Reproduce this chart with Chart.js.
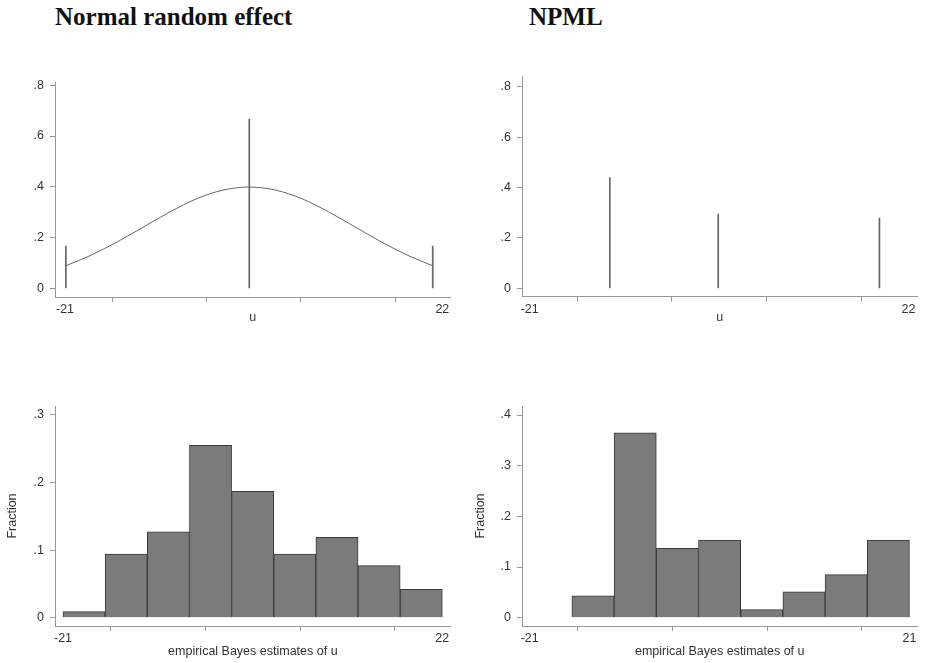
<!DOCTYPE html>
<html>
<head>
<meta charset="utf-8">
<script src="https://cdn.jsdelivr.net/npm/chart.js@4.4.0/dist/chart.umd.min.js"></script>
<style>
  body { margin:0; background:#fff; width:926px; height:663px; position:relative; overflow:hidden; }
  .titulo { position:absolute; top:4px; font: bold 25px/25px "Liberation Serif", "Times New Roman", serif; color:#111; white-space:nowrap; }
  canvas { position:absolute; }
</style>
</head>
<body>
<div class="titulo" style="left:55px">Normal random effect</div>
<div class="titulo" style="left:529px">NPML</div>
<canvas id="normal_u" width="463" height="300" style="left:0;top:40px"></canvas>
<canvas id="npml_u" width="463" height="300" style="left:463px;top:40px"></canvas>
<canvas id="eb_normal" width="463" height="278" style="left:0;top:385px"></canvas>
<canvas id="eb_npml" width="463" height="278" style="left:463px;top:385px"></canvas>
<script>
  // DADOS ================================

  // normal random effect: curva + pontos de quadratura
  const normal_curve_x = [-20.9, -18, -15, -12, -9, -6, -3, 0, 3, 6, 9, 12, 15, 18, 20.9]
  const normal_curve_y = [0.089, 0.131, 0.184, 0.243, 0.302, 0.353, 0.387, 0.399, 0.387, 0.353, 0.302, 0.243, 0.184, 0.131, 0.089]
  const normal_mass_x = [-20.9, 0, 20.9]
  const normal_mass_y = [0.167, 0.667, 0.167]

  // NPML: massas
  const npml_mass_x = [-11.9, 0.4, 18.7]
  const npml_mass_y = [0.44, 0.295, 0.279]

  // histogramas das estimativas empiricas de Bayes
  const eb_normal_range = [-21, 22]
  const eb_normal_frac = [0.009, 0.094, 0.127, 0.255, 0.187, 0.094, 0.119, 0.077, 0.042]
  const eb_npml_range = [-16.33, 21]
  const eb_npml_frac = [0.043, 0.365, 0.137, 0.153, 0.016, 0.051, 0.085, 0.153]

  // ticks
  const top_x_ticks = [-21, -10.25, 0.5, 11.25, 22]
  const top_x_labels = ['-21', '', '', '', '22']
  const top_y_ticks = [0, 0.2, 0.4, 0.6, 0.8]
  const top_y_labels = ['0', '.2', '.4', '.6', '.8']
  const eb_normal_y_ticks = [0, 0.1, 0.2, 0.3]
  const eb_normal_y_labels = ['0', '.1', '.2', '.3']
  const eb_npml_x_ticks = [-21, -10.5, 0, 10.5, 21]
  const eb_npml_x_labels = ['-21', '', '', '', '21']
  const eb_npml_y_ticks = [0, 0.1, 0.2, 0.3, 0.4]
  const eb_npml_y_labels = ['0', '.1', '.2', '.3', '.4']

  Chart.defaults.font.family = '"Liberation Sans", Arial, sans-serif'
  Chart.defaults.font.size = 12.5
  Chart.defaults.color = '#333'
  Chart.defaults.animation = false
  Chart.defaults.plugins.legend.display = false
  Chart.defaults.plugins.tooltip.enabled = false

  const pts = (xs, ys) => xs.map((x, i) => ({x: x, y: ys[i]}))

  function bins(range, frac) {
    const w = (range[1] - range[0]) / frac.length
    return frac.map((f, i) => ({x: range[0] + w * (i + 0.5), y: f}))
  }

  function eixo_x(min, max, ticks, labels, altura, titulo, pad) {
    return {
      type: 'linear', min: min, max: max, offset: false,
      afterBuildTicks: s => { s.ticks = ticks.map(v => ({value: v})) },
      afterFit: s => { s.height = altura },
      ticks: { callback: (v, i) => labels[i], padding: 0, maxRotation: 0, autoSkip: false },
      grid: { drawOnChartArea: false, drawTicks: true, tickLength: 5, color: '#999' },
      border: { color: '#999' },
      title: { display: true, text: titulo, padding: {top: 0, bottom: pad} }
    }
  }

  function eixo_y(min, max, ticks, labels, largura, titulo, pad) {
    return {
      min: min, max: max,
      afterBuildTicks: s => { s.ticks = ticks.map(v => ({value: v})) },
      afterFit: s => { s.width = largura },
      ticks: { callback: (v, i) => labels[i], padding: 6, autoSkip: false },
      grid: { drawOnChartArea: false, drawTicks: true, tickLength: 5, color: '#999' },
      border: { color: '#999' },
      title: { display: !!titulo, text: titulo, padding: {top: pad, bottom: 0} }
    }
  }

  // =================================== 

  new Chart(document.getElementById('normal_u'), {
    type: 'bar',
    data: {
      datasets: [{
        type: 'line',
        data: pts(normal_curve_x, normal_curve_y),
        borderColor: '#666',
        borderWidth: 1,
        pointRadius: 0,
        cubicInterpolationMode: 'monotone'
      }, {
        data: pts(normal_mass_x, normal_mass_y),
        backgroundColor: '#666',
        barThickness: 1
      }]
    },
    options: {
      responsive: false,
      layout: { padding: {left: 0, top: 42.7, right: 12.3, bottom: 0} },
      scales: {
        x: eixo_x(-22.14, 22.95, top_x_ticks, top_x_labels, 43, 'u', 14.5),
        y: eixo_y(-0.034, 0.81, top_y_ticks, top_y_labels, 55)
      }
    }
  });

  /* =================================== */

  new Chart(document.getElementById('npml_u'), {
    type: 'bar',
    data: {
      datasets: [{
        data: pts(npml_mass_x, npml_mass_y),
        backgroundColor: '#666',
        barThickness: 1
      }]
    },
    options: {
      responsive: false,
      layout: { padding: {left: 0, top: 36.7, right: 8.5, bottom: 0} },
      scales: {
        x: eixo_x(-21.87, 23.02, top_x_ticks, top_x_labels, 43.3, 'u', 14.5),
        y: eixo_y(-0.033, 0.84, top_y_ticks, top_y_labels, 59)
      }
    }
  });

  /* =================================== */

  new Chart(document.getElementById('eb_normal'), {
    type: 'bar',
    data: {
      datasets: [{
        data: bins(eb_normal_range, eb_normal_frac),
        backgroundColor: '#7b7b7b',
        borderColor: '#3a3a3a',
        borderWidth: 1,
        barPercentage: 1,
        categoryPercentage: 1
      }]
    },
    options: {
      responsive: false,
      layout: { padding: {left: 0, top: 21, right: 12.3, bottom: 0} },
      scales: {
        x: eixo_x(-21.91, 22.95, top_x_ticks, top_x_labels, 37, 'empirical Bayes estimates of u', 3.8),
        y: eixo_y(-0.0123, 0.3133, eb_normal_y_ticks, eb_normal_y_labels, 55, 'Fraction', 5.5)
      }
    }
  });

  /* =================================== */

  new Chart(document.getElementById('eb_npml'), {
    type: 'bar',
    data: {
      datasets: [{
        data: bins(eb_npml_range, eb_npml_frac),
        backgroundColor: '#7b7b7b',
        borderColor: '#3a3a3a',
        borderWidth: 1,
        barPercentage: 1,
        categoryPercentage: 1
      }]
    },
    options: {
      responsive: false,
      layout: { padding: {left: 0, top: 21, right: 8.5, bottom: 0} },
      scales: {
        x: eixo_x(-21.85, 21.89, eb_npml_x_ticks, eb_npml_x_labels, 37, 'empirical Bayes estimates of u', 3.8),
        y: eixo_y(-0.0164, 0.4178, eb_npml_y_ticks, eb_npml_y_labels, 59, 'Fraction', 10.5)
      }
    }
  });
</script>
</body>
</html>
